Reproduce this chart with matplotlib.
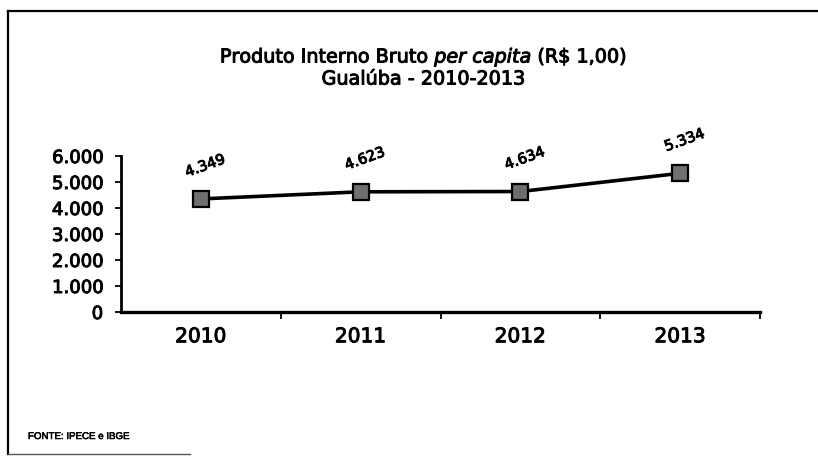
import matplotlib
matplotlib.use("Agg")
import matplotlib.pyplot as plt
from matplotlib.lines import Line2D
import matplotlib.patheffects as pe

years = ["2010", "2011", "2012", "2013"]
values = [4349, 4623, 4634, 5334]
value_labels = ["4.349", "4.623", "4.634", "5.334"]
yticks = [0, 1000, 2000, 3000, 4000, 5000, 6000]
ytick_labels = ["0", "1.000", "2.000", "3.000", "4.000", "5.000", "6.000"]

plt.rcParams['mathtext.fontset'] = 'custom'
plt.rcParams['mathtext.it'] = 'DejaVu Sans:italic'
plt.rcParams['mathtext.rm'] = 'DejaVu Sans'

W, H = 818, 464
fig = plt.figure(figsize=(W / 100, H / 100), dpi=100)
fig.patch.set_facecolor("white")

thick = [pe.withStroke(linewidth=0.7, foreground="black")]

# outer frame (scanned box)
fig.add_artist(Line2D([8 / W, 8 / W], [1 - 12 / H, 1 - 455 / H], color="black", lw=1.6, transform=fig.transFigure))
fig.add_artist(Line2D([8 / W, 1.0], [1 - 12 / H, 1 - 12 / H], color="black", lw=1.6, transform=fig.transFigure))
fig.add_artist(Line2D([8 / W, 190 / W], [1 - 455 / H, 1 - 455 / H], color="#555555", lw=1.0, transform=fig.transFigure))

ax = fig.add_axes([121 / W, 1 - 313 / H, (760 - 121) / W, (313 - 157) / H])
x = list(range(len(years)))
ax.plot(x, values, color="black", lw=2.6, marker="s", markersize=11,
        markerfacecolor="#6f6f6f", markeredgecolor="black", markeredgewidth=1.6, zorder=3)

for xi, v, lab in zip(x, values, value_labels):
    ax.annotate(lab, (xi, v), xytext=(3, 24), textcoords="offset points",
                ha="center", va="center", rotation=20, fontsize=10.5,
                family="DejaVu Sans", color="black", path_effects=thick)

ax.set_xlim(-0.5, 3.5)
ax.set_ylim(0, 6000)
ax.set_yticks(yticks)
ax.set_yticklabels(ytick_labels, family="DejaVu Sans", fontsize=13)
ax.set_xticks(x)
ax.set_xticklabels(years, family="DejaVu Sans", fontsize=14.5)
ax.set_xticks([0.5, 1.5, 2.5, 3.5], minor=True)
ax.tick_params(axis="x", which="major", length=0, pad=11)
ax.tick_params(axis="x", which="minor", length=5, width=1.3, direction="out")
ax.tick_params(axis="y", which="major", length=4, width=1.3, direction="out", pad=9)
for lbl in ax.get_xticklabels() + ax.get_yticklabels():
    lbl.set_path_effects(thick)

for s in ["top", "right"]:
    ax.spines[s].set_visible(False)
ax.spines["left"].set_linewidth(2.0)
ax.spines["bottom"].set_linewidth(2.4)
ax.set_facecolor("none")

fig.text(423 / W, 1 - 58 / H, r"Produto Interno Bruto $per\ capita$ (R\$ 1,00)",
         ha="center", va="center", fontsize=13.8, family="DejaVu Sans", path_effects=thick)
fig.text(423 / W, 1 - 80 / H, "Gualúba - 2010-2013",
         ha="center", va="center", fontsize=13.8, family="DejaVu Sans", path_effects=thick)

fig.text(28 / W, 1 - 437 / H, "FONTE: IPECE e IBGE", ha="left", va="center",
         fontsize=7, family="Liberation Sans", path_effects=[pe.withStroke(linewidth=0.4, foreground="black")])

fig.savefig("out.png", dpi=100, facecolor="white")
